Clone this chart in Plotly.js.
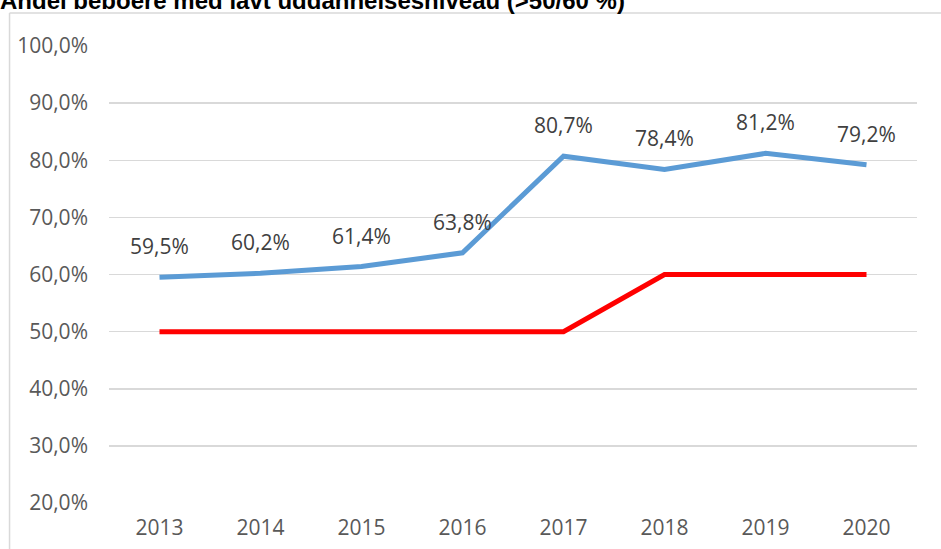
<!DOCTYPE html>
<html>
<head>
<meta charset="utf-8">
<script src="https://cdn.plot.ly/plotly-3.0.1.min.js"></script>
<style>html,body{margin:0;padding:0;background:#fff;}#chart{width:941px;height:549px;}</style>
</head>
<body>
<div id="chart"></div>
<script>
const years = ['2013','2014','2015','2016','2017','2018','2019','2020'];
const andelLavUddannelse = [59.5, 60.2, 61.4, 63.8, 80.7, 78.4, 81.2, 79.2];
const graense = [50, 50, 50, 50, 50, 60, 60, 60];
const yTicks = [20, 30, 40, 50, 60, 70, 80, 90, 100];
const yTickLabels = ['20,0%','30,0%','40,0%','50,0%','60,0%','70,0%','80,0%','90,0%','100,0%'];
const chartTitle = 'Andel beboere med lavt uddannelsesniveau (>50/60 %)';

const fmt = v => v.toFixed(1).replace('.', ',') + '%';

const traces = [
  {x: years, y: graense, type: 'scatter', mode: 'lines',
   line: {color: '#FF0000', width: 5}, hoverinfo: 'skip'},
  {x: years, y: andelLavUddannelse, type: 'scatter', mode: 'lines',
   line: {color: '#5B9BD5', width: 5}, hoverinfo: 'skip'}
];

const annotations = years.map((yr, i) => ({
  x: i, y: andelLavUddannelse[i], xref: 'x', yref: 'y',
  text: fmt(andelLavUddannelse[i]), showarrow: false, yshift: 31,
  font: {family: 'Open Sans, sans-serif', size: 21, color: '#404040'}
}));

const layout = {
  width: 941, height: 549,
  margin: {l: 109, r: 24, t: 46, b: 46},
  paper_bgcolor: '#ffffff', plot_bgcolor: '#ffffff',
  showlegend: false,
  title: {text: '<b>' + chartTitle + '</b>', x: 0, xref: 'container', xanchor: 'left',
          y: 0.9995, yref: 'container', yanchor: 'middle',
          font: {family: 'Liberation Sans, Arial, sans-serif', size: 24, color: '#000000'}},
  xaxis: {type: 'category', range: [-0.5, years.length - 0.5], autorange: false,
          showgrid: false, zeroline: false, showline: false, ticks: '',
          tickfont: {family: 'Open Sans, sans-serif', size: 21, color: '#595959'},
          ticklabelstandoff: 10, fixedrange: true},
  yaxis: {range: [20, 100], tickvals: yTicks, ticktext: yTickLabels,
          showgrid: true, gridcolor: '#d9d9d9', gridwidth: 1.5, zeroline: false, showline: false, ticks: '',
          tickfont: {family: 'Open Sans, sans-serif', size: 21, color: '#595959'},
          ticklabelstandoff: 20, fixedrange: true},
  annotations: annotations,
  shapes: [
    {type: 'line', xref: 'paper', yref: 'paper', x0: -0.1231, x1: -0.1231, y0: -0.2, y1: 1.0722,
     line: {color: '#d9d9d9', width: 1.5}},
    {type: 'line', xref: 'paper', yref: 'paper', x0: -0.1231, x1: 1.1, y0: 1.0722, y1: 1.0722,
     line: {color: '#d9d9d9', width: 1.5}}
  ]
};

Plotly.newPlot('chart', traces, layout, {displayModeBar: false, staticPlot: true});
</script>
</body>
</html>
